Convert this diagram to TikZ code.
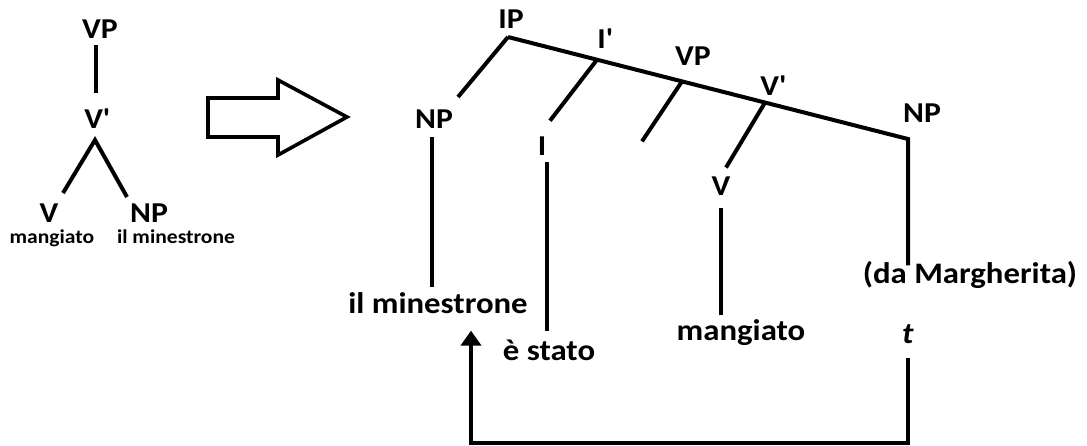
\documentclass[tikz,border=0pt]{standalone}
\usepackage{fontspec}
\setmainfont[FakeStretch=1.1]{Carlito}
\usetikzlibrary{arrows.meta}
\tikzset{
  lab/.style={font=\bfseries\fontsize{14.4}{17}\selectfont, inner sep=0pt, anchor=base},
  word/.style={font=\bfseries\fontsize{14.9}{17}\selectfont, inner sep=0pt, anchor=base},
  tiny/.style={font=\bfseries\fontsize{9.8}{11}\selectfont, inner sep=0pt, anchor=base},
  branch/.style={line width=2pt},
}
\begin{document}
\begin{tikzpicture}[x=0.5pt,y=-0.5pt]
\useasboundingbox (0,0) rectangle (1087,445);
% Albero di partenza
\node[lab] (vpA) at (100,38) {VP};
\node[lab] (vbarA) at (97,128) {V\textquotesingle};
\node[lab] (vA) at (49,222) {V};
\node[lab] (npA) at (149,222) {NP};
\node[tiny] (mangA) at (52,243) {mangiato};
\node[tiny] (minA) at (176,243) {il minestrone};
\coordinate (forkA) at (95,140);
\coordinate (legV) at (63,193);
\coordinate (legNP) at (127,197);
\draw[branch] ([xshift=-2pt,yshift=-3.5pt]vpA.south) -- ([xshift=-2pt,yshift=7.5pt]vpA.south |- vbarA.north);
\draw[branch] (legV) -- (forkA) -- (legNP);
% Freccia vuota
\draw[line width=1.8pt] (208,98) -- (278,98) -- (278,80) -- (347,117) -- (278,155) -- (278,137) -- (208,137) -- cycle;
% Albero derivato
\node[lab] (ipB) at (511,28) {IP};
\node[lab] (ibarB) at (605,48) {I\textquotesingle};
\node[lab] (vpB) at (693,65) {VP};
\node[lab] (vbarB) at (773,95) {V\textquotesingle};
\node[lab] (npB) at (434,128) {NP};
\node[lab] (iB) at (542,155) {I};
\node[lab] (vB) at (721,195) {V};
\node[lab] (npC) at (922,122) {NP};
\node[word] (minB) at (438,313) {il minestrone};
\node[word] (statoB) at (549,360) {è stato};
\node[word] (mangB) at (741,340) {mangiato};
\node[word] (margB) at (970,283) {(da Margherita)};
\node[word] (tB) at (908,343) {\textit{t}};
\coordinate (apexB) at (508,37);
\coordinate (endB) at (908,139);
\path (apexB) -- (endB) coordinate[pos=0.2225] (ibarJ) coordinate[pos=0.435] (vpJ) coordinate[pos=0.6425] (vbarJ);
\coordinate (legNPB) at (458,97);
% Rami
\draw[branch] (apexB) -- (endB) -- ([yshift=-2.5pt]endB |- margB.north);
\draw[branch] (apexB) -- (legNPB);
\draw[branch] (ibarJ) -- ++(-47,61);
\draw[branch] (vpJ) -- ++(-40,60);
\draw[branch] (vbarJ) -- ++(-39,65);
\draw[branch] ([xshift=-1pt,yshift=-4.5pt]npB.south) -- ([xshift=-1pt,yshift=2.5pt]npB.south |- minB.north);
\draw[branch] ([yshift=-3.5pt]iB.south east) -- ([yshift=4pt]iB.south east |- statoB.north);
\draw[branch] ([yshift=-6.5pt]vB.south) -- ([yshift=2pt]vB.south |- mangB.north);
% Movimento della traccia
\draw[branch, -{Triangle[width=10pt,length=7.5pt]}] ([yshift=-7pt]tB.south) -- ++(0,85) -| ([xshift=16.5pt,yshift=-8.5pt]minB.south);
\end{tikzpicture}
\end{document}
